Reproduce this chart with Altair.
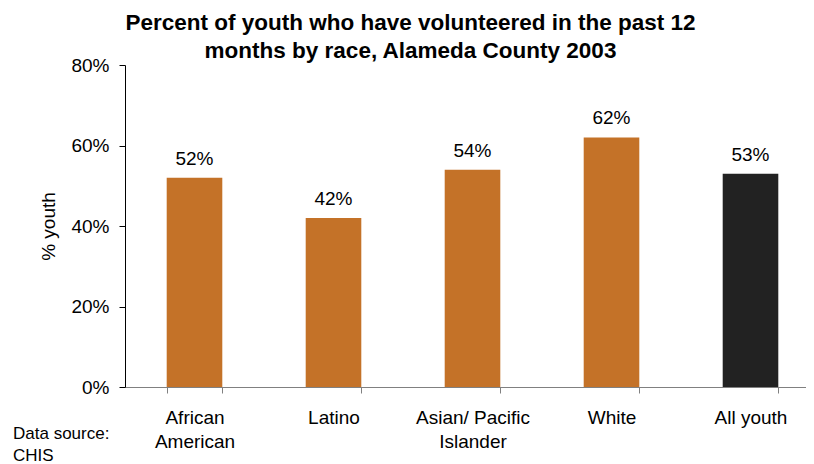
import altair as alt
import pandas as pd

categories = ["African American", "Latino", "Asian/ Pacific Islander", "White", "All youth"]
values = [52, 42, 54, 62, 53]
colors = ["#C47228", "#C47228", "#C47228", "#C47228", "#222222"]
y_ticks = [0, 20, 40, 60, 80]
title_lines = ["Percent of youth who have volunteered in the past 12",
               "months by race, Alameda County 2003"]
source_lines = ["Data source:", "CHIS"]

df = pd.DataFrame({"race": categories, "pct": values, "color": colors})

FONT = "Liberation Sans"

x = alt.X("race:N", sort=categories, title=None,
          scale=alt.Scale(paddingInner=0.6, paddingOuter=0.3, range=[0, 695]),
          axis=alt.Axis(labelAngle=0, tickBand="extent", tickSize=6,
                        domainColor="#808080", tickColor="#808080",
                        labelFont=FONT, labelFontSize=19, labelColor="black",
                        labelPadding=15, labelLineHeight=24,
                        labelExpr="datum.label == 'African American' ? ['African', 'American'] : "
                                  "datum.label == 'Asian/ Pacific Islander' ? ['Asian/ Pacific', 'Islander'] : datum.label"))
y = alt.Y("pct:Q", title="% youth",
          scale=alt.Scale(domain=[0, 80], nice=False),
          axis=alt.Axis(values=y_ticks, labelExpr="datum.value + '%'", grid=False,
                        tickSize=6, domainColor="black", tickColor="black",
                        labelFont=FONT, labelFontSize=19, labelColor="black", labelPadding=10,
                        titleFont=FONT, titleFontSize=19, titleFontWeight="normal",
                        titleColor="black", titlePadding=12))

base = alt.Chart(df)
bars = base.mark_bar().encode(x=x, y=y, color=alt.Color("color:N", scale=None))
labels = base.mark_text(font=FONT, fontSize=19, dy=-13, baseline="alphabetic",
                        color="black").transform_calculate(
    lab="datum.pct + '%'").encode(x=x, y=y, text="lab:N")
source = alt.Chart(pd.DataFrame({"t": [0]})).mark_text(
    font=FONT, fontSize=17, align="left", baseline="alphabetic", lineHeight=22,
    color="black").encode(x=alt.value(-112), y=alt.value(374),
                          text=alt.value(source_lines))

chart = alt.layer(bars, labels, source).properties(
    width=681, height=322,
    title=alt.Title(text=title_lines, font=FONT, fontSize=22.5, fontWeight="bold",
                    color="black", lineHeight=28, anchor="middle", dx=-55, offset=-6),
    autosize=alt.AutoSizeParams(type="none"),
    padding={"left": 117, "top": 57, "right": 0, "bottom": 77},
).configure_view(stroke=None)

chart.save("out.html", embed_options={"renderer": "svg", "actions": False})
